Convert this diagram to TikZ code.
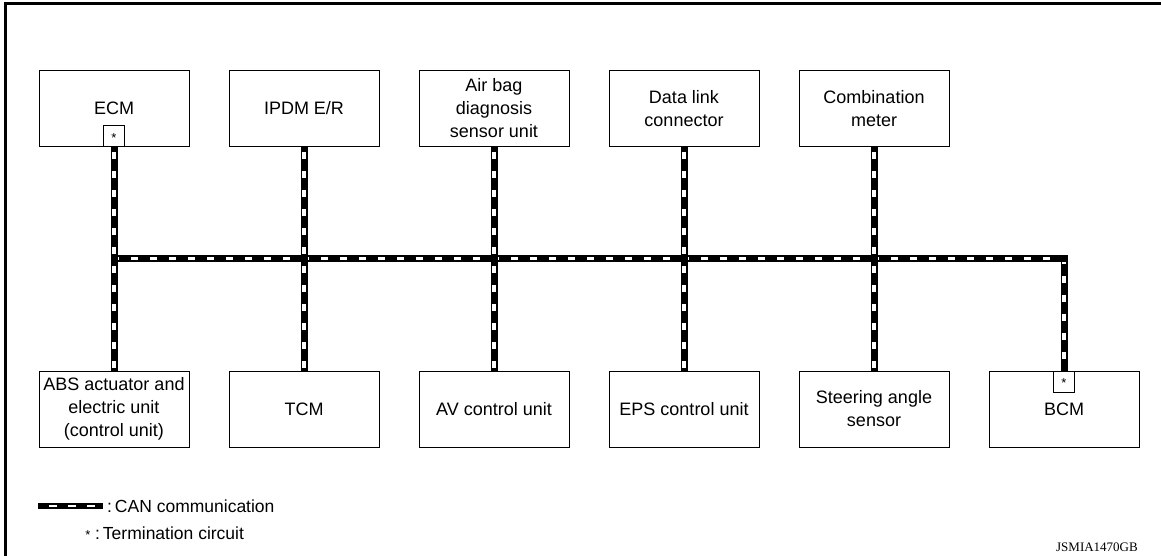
\documentclass[tikz,border=0pt]{standalone}
\usepackage{fontspec}
\setmainfont{Liberation Sans}
\newfontfamily\serifid{Liberation Serif}
\begin{document}
\begin{tikzpicture}[x=1pt,y=-1pt,
  unit/.style={draw=black,line width=1pt,minimum width=150pt,minimum height=76pt,inner sep=0pt,align=center,
    font=\fontsize{18}{23}\selectfont},
  term/.style={draw=black,fill=white,line width=1pt,minimum width=21pt,minimum height=21pt,inner sep=0pt},
  canblack/.style={line width=7pt,draw=black},
  canwhite/.style={line width=3.4pt,draw=white,dash pattern=on 7pt off 12pt},
  legtext/.style={anchor=west,inner sep=0pt,font=\fontsize{17.5}{21}\selectfont}]
\useasboundingbox (0,0) rectangle (1161,556);
\fill[white] (0,0) rectangle (1161,556);
% frame
\draw[line width=3.3pt] (5.7,556) -- (5.7,3.3) -- (1161,3.3);

% top row
\node[unit] (ecm)  at (114,108.5) {ECM};
\node[unit] (ipdm) at (304,108.5) {IPDM E/R};
\node[unit] (air)  at (494,108.5) {Air bag\\diagnosis\\sensor unit};
\node[unit] (dlc)  at (684,108.5) {Data link\\connector};
\node[unit] (comb) at (874,108.5) {Combination\\meter};
% bottom row
\node[unit] (abs)  at (114,409) {ABS actuator and\\electric unit\\(control unit)};
\node[unit] (tcm)  at (304,409) {TCM};
\node[unit] (av)   at (494,409) {AV control unit};
\node[unit] (eps)  at (684,409) {EPS control unit};
\node[unit] (sas)  at (874,409) {Steering angle\\sensor};
\node[unit] (bcm)  at (1064,409) {BCM};

% termination circuits
\node[term,anchor=south] (ecmt) at (ecm.south) {};
\node[term,anchor=north] (bcmt) at (bcm.north) {};
\node[font=\fontsize{13}{13}\selectfont,inner sep=0pt] (ecmts) at ([yshift=-2pt]ecmt.center) {*};
\node[font=\fontsize{13}{13}\selectfont,inner sep=0pt] (bcmts) at ([yshift=-2pt]bcmt.center) {*};

% bus coordinates
\coordinate (busL) at (110.5,258.5);
\coordinate (busR) at (1064,258.5);

% black layer
\draw[canblack] (ecmt.south) -- (abs.north);
\draw[canblack] (ipdm.south) -- (tcm.north);
\draw[canblack] (air.south) -- (av.north);
\draw[canblack] (dlc.south) -- (eps.north);
\draw[canblack] (comb.south) -- (sas.north);
\draw[canblack] (busL) -- (busR) -- (bcmt.north);

% white dashes
\draw[canwhite,dash phase=14pt] (ecmt.south) -- (abs.north);
\draw[canwhite,dash phase=14pt] (ipdm.south) -- (tcm.north);
\draw[canwhite,dash phase=14pt] (air.south) -- (av.north);
\draw[canwhite,dash phase=14pt] (dlc.south) -- (eps.north);
\draw[canwhite,dash phase=14pt] (comb.south) -- (sas.north);
\draw[canwhite,dash phase=17.5pt] (busL) -- (busR) -- (bcmt.north);

% black crossings
\foreach \x in {114,304,494,684,874}{
  \fill[black] (\x-3.5,255) rectangle (\x+3.5,262);
}
\fill[black] (1060.5,255) rectangle (1067.5,262);

% legend
\coordinate (legL) at (38,506);
\coordinate (legR) at (103,506);
\draw[line width=6pt] (legL) -- (legR);
\draw[line width=2.8pt,white,dash pattern=on 8pt off 11pt,dash phase=8pt] (legL) -- (legR);
\node[legtext] (canlbl) at (107,506) {:\,CAN communication};
\node[font=\fontsize{13}{13}\selectfont,inner sep=0pt] (legstar) at (88,535) {*};
\node[legtext] (termlbl) at (95,533) {:\,Termination circuit};

% figure id
\node[font=\serifid\fontsize{13}{13}\selectfont,inner sep=0pt,anchor=east] (figid) at (1138,547) {JSMIA1470GB};
\end{tikzpicture}
\end{document}
